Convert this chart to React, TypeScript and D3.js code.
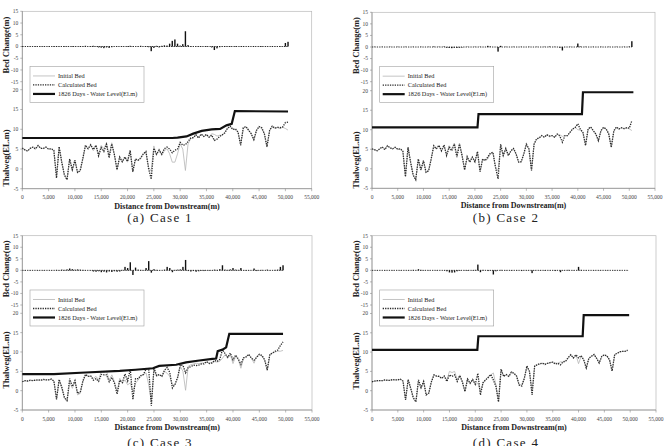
import * as d3 from "d3";

const FONT = "'Liberation Serif', 'Times New Roman', serif";

// survey stations, km from the downstream end
const stationKm = [
  0, 0.5, 1, 1.5, 2, 2.5, 3, 3.5, 4, 4.5,
  5, 5.5, 6, 6.5, 7, 7.5, 8, 8.5, 9, 9.5,
  10, 10.5, 11, 11.5, 12, 12.5, 13, 13.5, 14, 14.5,
  15, 15.5, 16, 16.5, 17, 17.5, 18, 18.5, 19, 19.5,
  20, 20.5, 21, 21.5, 22, 22.5, 23, 23.5, 24, 24.5,
  25, 25.5, 26, 26.5, 27, 27.5, 28, 28.5, 29, 29.5,
  30, 30.5, 31, 31.5, 32, 32.5, 33, 33.5, 34, 34.5,
  35, 35.5, 36, 36.5, 37, 37.5, 38, 38.5, 39, 39.5,
  40, 40.5, 41, 41.5, 42, 42.5, 43, 43.5, 44, 44.5,
  45, 45.5, 46, 46.5, 47, 47.5, 48, 48.5, 49, 49.5,
  50, 50.5,
];

// initial thalweg, cases 1-2 (El.m)
const initialBed12 = [
  5.1, 4.8, 4.6, 5.1, 5.5, 4.9, 5.9, 5.3, 5.1, 5.5,
  4.9, 5.1, 4.5, -2.1, 5.5, 1.7, -1.7, -2.8, 2.5, -0.4,
  2.1, -0.9, -0.6, 2.5, 5.7, 5.1, 5.9, 4.6, 5.9, 3.7,
  5.9, 5.1, 6.6, 3.4, 6.6, 3.6, -0.3, 3.0, 1.7, 3.0,
  1.7, 4.4, -0.8, 2.5, 2.1, 2.5, 3.8, 4.2, 0.4, -0.6,
  5.8, 3.4, 5.1, 3.4, 4.6, 5.1, 3.8, 1.7, 1.7, 3.8,
  6.3, 5.0, -0.4, 6.3, 7.6, 7.9, 8.5, 8.0, 8.7, 8.2,
  8.5, 8.0, 8.9, 8.7, 8.3, 8.5, 8.5, 9.3, 10.2, 10.6,
  10.0, 9.9, 9.3, 5.9, 10.2, 10.7, 9.7, 8.9, 7.2, 9.7,
  10.6, 10.2, 8.9, 5.5, 9.7, 10.6, 10.2, 10.5, 10.2, 10.5,
  10.2, 9.8,
];

// initial thalweg, cases 3-4 (El.m)
const initialBed34 = [
  2.3, 2.5, 2.5, 2.6, 2.6, 2.7, 2.7, 2.7, 2.8, 2.8,
  2.8, 2.9, 2.5, -2.4, 2.8, 0.6, -2.0, -2.9, 2.3, 0.6,
  2.3, -1.1, -0.7, 2.3, 4.1, 3.7, 3.7, 3.2, 3.7, 2.8,
  5.0, 4.7, 5.0, 2.8, 4.1, 2.3, -0.3, 3.2, 1.9, 2.8,
  1.5, 2.0, -0.3, 1.9, 2.8, 3.7, 4.1, 4.6, 1.5, -2.9,
  5.4, 3.7, 4.1, 3.7, 5.0, 4.5, 3.7, 1.5, 1.5, 3.2,
  6.3, 5.0, 0.1, 6.3, 6.7, 6.9, 7.1, 7.0, 7.1, 7.2,
  7.4, 7.2, 7.1, 7.5, 7.4, 7.6, 8.4, 9.3, 8.4, 9.3,
  7.0, 8.9, 8.0, 5.8, 8.4, 8.9, 9.3, 8.4, 7.1, 8.9,
  9.3, 8.9, 8.0, 5.1, 9.3, 9.7, 10.0, 10.2, 10.2, 10.4,
];

// bed change after 1826 days (m)
const bedChange1 = [
  0.2, 0, -0.1, 0.1, 0, 0.2, 0, -0.1, 0.1, 0,
  0.1, 0, 0.2, -0.2, 0.1, 0, 0.2, 0.1, 0, 0.2,
  0.1, 0, 0.2, 0.1, 0.3, 0, 0.2, 0.3, 0.1, -0.4,
  -0.5, -0.7, -0.4, -0.6, -0.3, 0, 0.1, 0, 0.1, 0,
  0.2, 0.3, 0.1, 0, 0.1, 0.3, 0, 0.2, -0.3, -2.0,
  -0.6, 0.3, -0.4, 0.3, 0.5, 0.4, 1.2, 2.4, 3.0, 1.2,
  0.4, 1.0, 6.5, 0.6, 0.2, 0, 0.1, -0.2, 0.1, 0,
  0.2, 0, -0.4, -1.5, -0.8, -0.3, 0.1, -0.2, 0.1, 0.2,
  0, 0.2, 0, 0.1, 0.2, 0, 0.1, 0, 0.2, 0,
  0.1, 0.2, 0, 0.1, 0, 0.2, 0.1, 0, 0.2, 0.1,
  1.5, 2.0,
];

const bedChange2 = [
  0, 0.1, 0, 0, 0.1, 0, 0, 0.1, 0, 0,
  0.1, 0, 0, 0.1, 0, 0, 0.1, 0, 0, 0.1,
  0, 0, 0.1, 0, 0.2, 0, 0.1, 0, 0.2, -0.3,
  -0.4, -0.5, -0.3, -0.4, -0.3, -0.2, 0, 0.1, 0, 0,
  0.1, 0, 0.1, 0, 0, 0.5, 0.2, 0, 0, -2.0,
  0.5, 0, 0.1, 0, 0, 0.1, 0, 0, 0.1, 0,
  0, 0.1, 0, 0, 0.1, 0, 0, 0.1, 0, 0.2,
  0, 0.1, 0, -0.3, -1.5, 0, 0, 0.1, 0, 0,
  1.5, 0.2, 0, 0.1, 0, 0, 0.1, 0, 0, 0.1,
  0, 0, 0.1, 0, 0, 0.1, 0, 0, 0.1, 0,
  0.2, 2.5,
];

const bedChange3 = [
  0, 0.1, 0, 0.1, 0, 0, 0.1, 0, 0.1, 0,
  0, 0.1, 0, 0.2, 0.1, 0.3, 0.2, 0.4, 0.8, 0.5,
  0.3, 0.4, 0.3, 0.2, 0.1, 0, 0.1, -0.5, -0.6, -0.4,
  -0.8, -0.6, -0.9, -0.5, -0.7, -0.4, -0.6, -0.5, 0.2, 1.5,
  1.0, 3.5, -2.0, 1.2, 0.3, 0.2, 0.1, 1.0, 4.0, -1.0,
  0.5, 0.2, 0.1, 0, 0.3, 1.5, 1.0, -0.8, 0.2, 0.3,
  0.4, 1.5, 4.5, -0.3, -0.5, -0.3, -0.6, -0.4, -0.2, -0.3,
  0.1, -0.2, 0.1, 0.3, 0.2, 0.5, 2.2, 0.3, 0.2, 0.4,
  1.0, 0.3, 0.2, 1.0, 0.1, -0.2, 0.1, 0, 0.8, -0.3,
  0.1, 0.2, 0, 0.3, 0.1, 0, 0.2, 0.3, 1.5, 2.2,
];

const bedChange4 = [
  0, 0, 0.1, 0, 0, 0.1, 0, 0, 0.1, 0,
  0, 0.1, 0, 0, 0.1, 0, 0.2, 0, 0.5, 0.2,
  0.1, 0, 0.1, 0, 0, 0.1, 0, 0, 0.1, -0.4,
  -0.9, -1.0, -0.9, -0.4, -0.2, 0, 0.1, -0.2, 0, 0.1,
  0.2, 2.5, -0.8, 0.2, 0, -0.3, 0.1, -1.8, -0.4, 0,
  0.2, 0, 0.1, 0, -0.2, 0, 0.1, 0, -0.3, 0,
  0.1, 0, -1.2, 0.1, 0, 0.1, 0, -0.2, 0, 0.1,
  0, -0.3, 0, -0.8, 0.1, 0, 0.2, 0, 0.1, 0,
  1.5, 0.2, 0, 0.1, 0, 0, 0.1, 0, 0.1, 0,
  0, 0.1, 0, 0, 0.1, 0, 0.1, 0, 0, 0.1,
];

// 1826-day water surface profiles
const waterKm1 = [0, 28.5, 29.5, 31.2, 32.5, 34.1, 36, 37.6, 38.8, 39.8, 40.4, 50.5];
const waterLevel1 = [7.8, 7.8, 7.9, 8.2, 8.9, 9.6, 10.0, 10.1, 11.0, 11.4, 14.6, 14.5];
const waterKm2 = [0, 20.5, 20.7, 40.8, 41.0, 50.8];
const waterLevel2 = [10.6, 10.6, 14.0, 14.0, 19.6, 19.6];
const waterKm3 = [0, 6, 12, 18.5, 21.5, 24.8, 26, 29.2, 31.1, 33.6, 36.1, 36.8, 37.1, 38, 38.7, 39.3, 49.5];
const waterLevel3 = [4.3, 4.3, 4.7, 5.1, 5.4, 5.8, 6.4, 6.7, 7.3, 7.8, 8.2, 8.3, 10.2, 10.6, 11.2, 14.7, 14.7];
const waterKm4 = [0, 20.4, 20.6, 40.8, 41.0, 49.8];
const waterLevel4 = [10.6, 10.6, 14.1, 14.1, 19.6, 19.6];

const distanceTicks = [0, 5000, 10000, 15000, 20000, 25000, 30000, 35000, 40000, 45000, 50000, 55000];
const changeTicks = [15, 10, 5, 0, -5, -10, -15];
const thalwegTicks = [20, 15, 10, 5, 0, -5];
const legendLabels = ["Initial Bed", "Calculated Bed", "1826 Days - Water Level(El.m)"];

type Frame = {
  x0: number;
  x1: number;
  top: [number, number];
  bottom: [number, number];
  captionX: number;
  captionY: number;
  thalwegLabelY: number;
};

const DOT = "1.3 1.1";

function CasePanel({ frame, caption, initial, change, waterKm, waterLevel }: {
  frame: Frame;
  caption: string;
  initial: number[];
  change: number[];
  waterKm: number[];
  waterLevel: number[];
}) {
  const x = d3.scaleLinear().domain([0, 55000]).range([frame.x0, frame.x1]);
  const yChange = d3.scaleLinear().domain([-15, 15]).range([frame.top[1], frame.top[0]]);
  const yBed = d3.scaleLinear().domain([-5, 20]).range([frame.bottom[1], frame.bottom[0]]);

  const line = d3
    .line<[number, number]>()
    .x((d) => x(d[0] * 1000))
    .y((d) => yBed(d[1]));

  const initialPts = initial.map((v, i) => [stationKm[i], v] as [number, number]);
  const calcPts = initial.map((v, i) => [stationKm[i], v + change[i]] as [number, number]);
  const waterPts = waterKm.map((k, i) => [k, waterLevel[i]] as [number, number]);
  const lastKm = stationKm[initial.length - 1];

  const axisY = frame.bottom[1];
  const midX = (frame.x0 + frame.x1) / 2;
  const topMid = (frame.top[0] + frame.top[1]) / 2;

  const lgX = frame.x0 + 7.7;
  const lgY = yChange(-8.5);

  return (
    <g>
      <rect
        x={frame.x0}
        y={frame.top[0]}
        width={frame.x1 - frame.x0}
        height={frame.bottom[1] - frame.top[0]}
        fill="none"
        stroke="#b8b8b8"
        strokeWidth={0.7}
      />
      <line x1={frame.x0} x2={frame.x0} y1={frame.top[0]} y2={axisY} stroke="#8a8a8a" strokeWidth={0.7} />
      <line x1={frame.x0} x2={frame.x1} y1={axisY} y2={axisY} stroke="#8a8a8a" strokeWidth={0.7} />

      {/* bed change */}
      {changeTicks.map((t) => (
        <g key={"c" + t}>
          <line x1={frame.x0 - 2} x2={frame.x0} y1={yChange(t)} y2={yChange(t)} stroke="#8a8a8a" strokeWidth={0.6} />
          <text x={frame.x0 - 4} y={yChange(t)} dy="0.35em" fontSize={5.5} textAnchor="end" fill="#444" fontFamily={FONT}>
            {t}
          </text>
        </g>
      ))}
      <line
        x1={x(0)}
        x2={x(lastKm * 1000)}
        y1={yChange(0)}
        y2={yChange(0)}
        stroke="#333"
        strokeWidth={1}
        strokeDasharray={DOT}
      />
      {change.map((v, i) => (
        <rect
          key={i}
          x={x(stationKm[i] * 1000) - 0.7}
          width={1.4}
          y={Math.min(yChange(v), yChange(0))}
          height={Math.abs(yChange(v) - yChange(0))}
          fill="#111"
        />
      ))}

      {/* thalweg profile */}
      {thalwegTicks.map((t) => (
        <g key={"t" + t}>
          <line x1={frame.x0 - 2} x2={frame.x0} y1={yBed(t)} y2={yBed(t)} stroke="#8a8a8a" strokeWidth={0.6} />
          <text x={frame.x0 - 4} y={yBed(t)} dy="0.35em" fontSize={5.5} textAnchor="end" fill="#444" fontFamily={FONT}>
            {t}
          </text>
        </g>
      ))}
      <path d={line(initialPts) ?? ""} fill="none" stroke="#b5b5b5" strokeWidth={0.8} />
      <path d={line(calcPts) ?? ""} fill="none" stroke="#2a2a2a" strokeWidth={1.3} strokeDasharray={DOT} />
      <path d={line(waterPts) ?? ""} fill="none" stroke="#111" strokeWidth={2.2} />

      {distanceTicks.map((t) => (
        <g key={"x" + t}>
          <line x1={x(t)} x2={x(t)} y1={axisY} y2={axisY + 2.5} stroke="#8a8a8a" strokeWidth={0.6} />
          <text x={x(t)} y={axisY + 10.5} fontSize={5.5} textAnchor="middle" fill="#444" fontFamily={FONT}>
            {d3.format(",")(t)}
          </text>
        </g>
      ))}
      <text x={midX} y={axisY + 20} fontSize={8} fontWeight="bold" textAnchor="middle" fill="#222" fontFamily={FONT}>
        Distance from Downstream(m)
      </text>
      <text
        transform={`translate(${frame.x0 - 13.5},${topMid - 1.5}) rotate(-90)`}
        fontSize={8.5}
        fontWeight="bold"
        textAnchor="middle"
        fill="#222"
        fontFamily={FONT}
      >
        Bed Change(m)
      </text>
      <text
        transform={`translate(${frame.x0 - 13.5},${frame.thalwegLabelY}) rotate(-90)`}
        fontSize={8.5}
        fontWeight="bold"
        textAnchor="middle"
        fill="#222"
        fontFamily={FONT}
      >
        Thalweg(EL.m)
      </text>

      {/* legend */}
      <rect x={lgX} y={lgY} width={114} height={36} fill="#fff" stroke="#a0a0a0" strokeWidth={0.6} />
      {legendLabels.map((label, i) => {
        const ly = lgY + 9.5 + i * 9;
        return (
          <g key={label}>
            {i === 0 && <line x1={lgX + 3} x2={lgX + 25} y1={ly} y2={ly} stroke="#b5b5b5" strokeWidth={0.8} />}
            {i === 1 && (
              <line x1={lgX + 3} x2={lgX + 25} y1={ly} y2={ly} stroke="#2a2a2a" strokeWidth={1.3} strokeDasharray={DOT} />
            )}
            {i === 2 && <line x1={lgX + 3} x2={lgX + 25} y1={ly} y2={ly} stroke="#111" strokeWidth={2.2} />}
            <text x={lgX + 28} y={ly} dy="0.35em" fontSize={6.3} fill="#222" fontFamily={FONT}>
              {label}
            </text>
          </g>
        );
      })}

      <text
        x={frame.captionX}
        y={frame.captionY}
        fontSize={13}
        letterSpacing={1.3}
        textAnchor="middle"
        fill="#222"
        fontFamily={FONT}
      >
        {caption}
      </text>
    </g>
  );
}

const frames: Frame[] = [
  { x0: 22.3, x1: 311.7, top: [11.3, 81.7], bottom: [89.7, 188.7], captionX: 160, captionY: 222, thalwegLabelY: 158 },
  { x0: 372, x1: 655, top: [12.3, 81.7], bottom: [90.7, 188.3], captionX: 506, captionY: 222, thalwegLabelY: 160 },
  { x0: 22.3, x1: 312, top: [235.7, 305], bottom: [313.3, 410], captionX: 160, captionY: 447, thalwegLabelY: 360 },
  { x0: 372, x1: 656, top: [235.7, 305], bottom: [313.5, 410], captionX: 506, captionY: 447, thalwegLabelY: 361 },
];

export default function App() {
  return (
    <svg
      width={664}
      height={446}
      style={{ position: "absolute", left: 0, top: 0, background: "#fff" }}
    >
      <CasePanel frame={frames[0]} caption="(a) Case 1" initial={initialBed12} change={bedChange1} waterKm={waterKm1} waterLevel={waterLevel1} />
      <CasePanel frame={frames[1]} caption="(b) Case 2" initial={initialBed12} change={bedChange2} waterKm={waterKm2} waterLevel={waterLevel2} />
      <CasePanel frame={frames[2]} caption="(c) Case 3" initial={initialBed34} change={bedChange3} waterKm={waterKm3} waterLevel={waterLevel3} />
      <CasePanel frame={frames[3]} caption="(d) Case 4" initial={initialBed34} change={bedChange4} waterKm={waterKm4} waterLevel={waterLevel4} />
    </svg>
  );
}
